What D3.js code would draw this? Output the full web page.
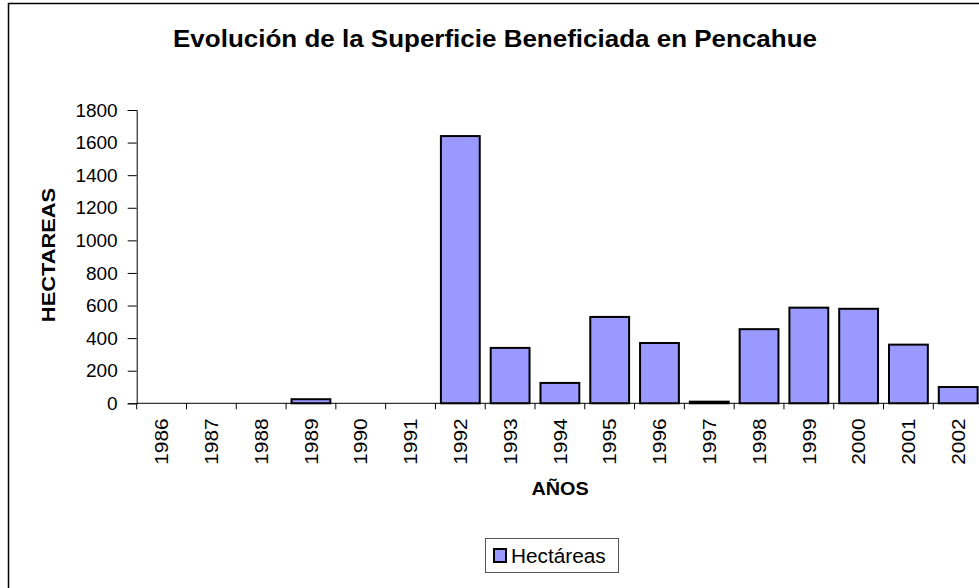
<!DOCTYPE html>
<html><head><meta charset="utf-8">
<script src="https://cdn.jsdelivr.net/npm/d3@7/dist/d3.min.js"></script>
<style>body{margin:0;background:#fff}svg{display:block}text{font-family:"Liberation Sans",Arial,sans-serif}</style>
</head><body>
<script>
const years = ["1986","1987","1988","1989","1990","1991","1992","1993","1994","1995","1996","1997","1998","1999","2000","2001","2002"];
const hectareas = [0,0,0,25,0,0,1640,340,125,530,370,10,455,587,580,360,100];
const yTicks = [0,200,400,600,800,1000,1200,1400,1600,1800];
const title = "Evolución de la Superficie Beneficiada en Pencahue";
const yTitle = "HECTAREAS";
const xTitle = "AÑOS";
const legendLabel = "Hectáreas";

const W = 979, H = 588;
const svg = d3.select("body").append("svg").attr("width", W).attr("height", H);
svg.append("rect").attr("x",8.5).attr("y",3.5).attr("width",W+20).attr("height",H+20)
  .attr("fill","#fff").attr("stroke","#000").attr("stroke-width",1.5);

const x = d3.scaleBand().domain(years).range([136.7, 983.1]).paddingInner(0.22).paddingOuter(0.11);
const xb = d3.scaleBand().domain(years).range([136.7, 983.1]);
const y = d3.scaleLinear().domain([0,1800]).range([403.3,110]);

svg.append("text").attr("transform","translate(495,47) scale(1.13,1)").attr("text-anchor","middle")
  .attr("font-weight","bold").attr("font-size",23).text(title);

// bars
svg.append("g").selectAll("rect").data(hectareas).join("rect")
  .attr("x",(d,i)=>x(years[i])).attr("width",x.bandwidth())
  .attr("y",d=>y(d)).attr("height",d=>y(0)-y(d))
  .attr("fill","#9999ff").attr("stroke","#000").attr("stroke-width",2);

// y axis
const ya = svg.append("g").attr("transform","translate(136.7,0)")
  .call(d3.axisLeft(y).tickValues(yTicks).tickSize(9).tickPadding(10).tickFormat(d3.format("d")));
ya.selectAll("text").attr("font-size",19).attr("fill","#000").attr("font-family","Liberation Sans, Arial, sans-serif");
ya.select(".domain").attr("stroke","#000");
ya.selectAll(".tick line").attr("stroke","#000");

// x axis
const xg = svg.append("g").attr("transform","translate(0,403.3)");
xg.append("line").attr("x1",136.7).attr("x2",983.1).attr("y1",0).attr("y2",0).attr("stroke","#000");
xg.selectAll("line.t").data(years).join("line").attr("class","t")
  .attr("x1",d=>xb(d)).attr("x2",d=>xb(d)).attr("y1",0).attr("y2",6).attr("stroke","#000");
xg.selectAll("text").data(years).join("text")
  .attr("transform",d=>`translate(${xb(d)+xb.bandwidth()/2},15) rotate(-90) scale(1.1,1)`)
  .attr("text-anchor","end").attr("dy","0.35em").attr("font-size",19).text(d=>d);

svg.append("text").attr("transform","translate(48,255) rotate(-90) scale(1.15,1)").attr("text-anchor","middle")
  .attr("dy","0.35em").attr("font-weight","bold").attr("font-size",19).text(yTitle);
svg.append("text").attr("transform","translate(560,495) scale(1.1,1)").attr("text-anchor","middle")
  .attr("font-weight","bold").attr("font-size",18).text(xTitle);

// legend
const lg = svg.append("g");
lg.append("rect").attr("x",485.5).attr("y",538.5).attr("width",133).attr("height",34)
  .attr("fill","#fff").attr("stroke","#555").attr("stroke-width",1);
lg.append("rect").attr("x",494).attr("y",549).attr("width",12).attr("height",13)
  .attr("fill","#9999ff").attr("stroke","#000").attr("stroke-width",2);
lg.append("text").attr("transform","translate(511,563) scale(1.04,1)").attr("font-size",20).text(legendLabel);
</script>
</body></html>
